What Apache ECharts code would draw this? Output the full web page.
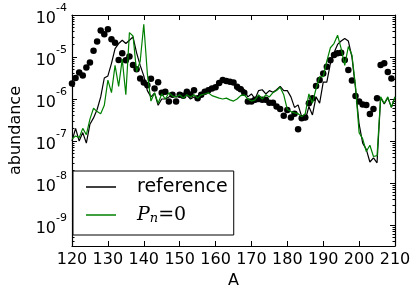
<!DOCTYPE html>
<html>
<head>
<meta charset="utf-8">
<script src="https://cdn.jsdelivr.net/npm/echarts@6/dist/echarts.min.js"></script>
<style>
html,body{margin:0;padding:0;background:#fff;}
#chart{width:415px;height:296px;}
</style>
</head>
<body>
<div id="chart"></div>
<script>
// Mass number A
var massNumbers = [120,121,122,123,124,125,126,127,128,129,130,131,132,133,134,135,136,137,138,139,
  140,141,142,143,144,145,146,147,148,149,150,151,152,153,154,155,156,157,158,159,
  160,161,162,163,164,165,166,167,168,169,170,171,172,173,174,175,176,177,178,179,
  180,181,182,183,184,185,186,187,188,189,190,191,192,193,194,195,196,197,198,199,
  200,201,202,203,204,205,206,207,208,209,210];

// log10(abundance), "reference" line (black)
var referenceLog10 = [-7.00,-6.70,-7.00,-6.80,-7.05,-6.60,-6.45,-6.25,-5.95,-5.50,
  -5.45,-5.15,-4.80,-4.68,-4.60,-4.68,-4.60,-4.52,-4.90,-5.20,
  -5.45,-5.80,-5.95,-5.86,-6.15,-6.00,-6.00,-5.95,-5.90,-5.95,
  -5.92,-5.96,-5.90,-6.00,-5.95,-5.98,-5.92,-5.85,-5.80,-5.75,
  -5.70,-5.62,-5.57,-5.58,-5.60,-5.62,-5.80,-5.70,-5.78,-5.95,
  -5.88,-6.00,-5.80,-5.78,-5.88,-5.80,-5.84,-5.78,-5.70,-5.80,
  -5.80,-5.95,-6.20,-6.14,-6.42,-6.50,-6.18,-6.38,-5.95,-6.10,
  -5.60,-5.60,-5.15,-4.90,-4.70,-4.62,-4.56,-4.62,-5.00,-5.75,
  -6.60,-7.05,-7.20,-7.50,-7.40,-7.52,-5.97,-6.12,-5.97,-6.20,-5.95];

// log10(abundance), "P_n=0" line (green)
var pn0Log10 = [-6.95,-6.88,-6.92,-6.70,-6.85,-6.48,-6.22,-6.30,-6.35,-6.15,
  -5.55,-5.85,-5.20,-5.70,-5.05,-5.90,-4.42,-4.50,-5.35,-5.10,
  -4.22,-5.40,-6.05,-5.85,-6.10,-5.88,-6.00,-5.85,-5.93,-5.95,
  -5.90,-5.98,-5.90,-5.95,-5.90,-5.98,-5.90,-5.88,-5.85,-5.92,
  -5.95,-5.98,-6.00,-5.98,-6.02,-6.05,-6.00,-5.92,-5.90,-6.00,
  -6.05,-6.02,-5.90,-6.00,-5.90,-5.95,-5.85,-5.80,-5.72,-5.90,
  -6.25,-6.30,-6.33,-6.35,-6.42,-6.35,-5.88,-6.10,-5.75,-5.47,
  -5.47,-5.10,-4.78,-4.68,-4.48,-4.80,-5.20,-4.75,-4.95,-5.70,
  -6.80,-6.95,-7.25,-7.10,-7.37,-7.35,-5.95,-6.10,-5.95,-6.20,-5.95];

// log10(abundance), black dots (A = 120..209)
var dotsLog10 = [-5.63,-5.50,-5.37,-5.44,-5.25,-5.13,-4.85,-4.63,-4.37,-4.46,
  -4.34,-4.58,-4.66,-5.07,-4.91,-5.08,-4.99,-5.19,-5.29,-5.51,
  -5.61,-5.67,-5.52,-5.75,-5.60,-5.85,-5.83,-6.06,-5.90,-6.06,
  -5.90,-5.92,-5.83,-5.89,-5.79,-5.98,-5.90,-5.83,-5.79,-5.75,
  -5.72,-5.62,-5.55,-5.57,-5.59,-5.61,-5.71,-5.77,-5.85,-6.06,
  -6.06,-6.02,-6.00,-6.02,-6.02,-6.09,-6.09,-6.18,-6.24,-6.40,
  -6.26,-6.44,-6.35,-6.72,-6.46,-6.44,-6.10,-5.98,-5.69,-5.55,
  -5.39,-5.23,-5.08,-4.95,-4.91,-4.90,-5.07,-5.31,-5.56,-5.93,
  -6.06,-6.13,-6.14,-6.36,-6.24,-5.98,-5.19,-5.15,-5.36,-5.51];

var xTicks = [120,130,140,150,160,170,180,190,200,210];
var yDecades = [-10,-9,-8,-7,-6,-5,-4];
var minorMultipliers = [2,3,4,5,6,7,8,9];

function pairs(logs){
  var out = [];
  for (var i = 0; i < logs.length; i++) out.push([massNumbers[i], Math.pow(10, logs[i])]);
  return out;
}

var Y_MIN = Math.pow(10,-9.5), Y_MAX = 1e-4;
var majorVals = [], minorVals = [];
yDecades.forEach(function(d){
  var p = Math.pow(10, d);
  if (p >= Y_MIN * 0.999 && p <= Y_MAX * 1.001) majorVals.push(p);
  minorMultipliers.forEach(function(m){
    var v = m * p;
    if (v > Y_MIN && v < Y_MAX) minorVals.push(v);
  });
});

var FONT = 'DejaVu Sans';
var chart = echarts.init(document.getElementById('chart'), null, {renderer:'canvas'});

function yLabel(v){
  var e = Math.log10(v);
  var r = Math.round(e);
  if (Math.abs(e - r) > 1e-6) return '';
  return '{b|10}{s|' + (r < 0 ? '-' + (-r) : r) + '}';
}

var tickStyle = {show:true, inside:true, length:5, lineStyle:{color:'#000', width:1}};
var lineStyleAxis = {show:true, lineStyle:{color:'#000', width:1.2}};

function yAx(pos, withLabels){
  return {
    type:'log', logBase:10, min:Y_MIN, max:Y_MAX, position:pos,
    axisLine:lineStyleAxis,
    axisTick:{show:true, inside:true, length:5, customValues:majorVals, lineStyle:{color:'#000', width:1}},
    axisLabel: withLabels ? {formatter:yLabel, customValues:majorVals, margin:5, color:'#000',
      rich:{
        b:{fontFamily:FONT, fontSize:16, color:'#000', lineHeight:24, verticalAlign:'bottom'},
        s:{fontFamily:FONT, fontSize:11, color:'#000', lineHeight:24, verticalAlign:'top', padding:[0,0,10,0]}
      }} : {show:false},
    splitLine:{show:false}
  };
}
function yMinor(pos){
  return {
    type:'log', logBase:10, min:Y_MIN, max:Y_MAX, position:pos,
    axisLine:{show:false},
    axisTick:{show:true, inside:true, length:2.5, customValues:minorVals, lineStyle:{color:'#000', width:1}},
    axisLabel:{show:false}, splitLine:{show:false}
  };
}

var leftAxis = yAx('left', true);
leftAxis.name = 'abundance';
leftAxis.nameLocation = 'middle';
leftAxis.nameGap = 48;
leftAxis.nameRotate = 90;
leftAxis.nameTextStyle = {fontFamily:FONT, fontSize:16, color:'#000'};

chart.setOption({
  animation:false,
  backgroundColor:'#fff',
  grid:{left:63, right:20, top:15, bottom:50, containLabel:false},
  xAxis:[{
    type:'value', min:xTicks[0], max:xTicks[xTicks.length-1], interval:10,
    name:'A', nameLocation:'middle', nameGap:22,
    nameTextStyle:{fontFamily:FONT, fontSize:16, color:'#000'},
    axisLine:lineStyleAxis, axisTick:tickStyle,
    axisLabel:{fontFamily:FONT, fontSize:16, color:'#000', margin:6},
    splitLine:{show:false}
  },{
    type:'value', position:'top', min:xTicks[0], max:xTicks[xTicks.length-1], interval:10,
    axisLine:lineStyleAxis, axisTick:tickStyle, axisLabel:{show:false}, splitLine:{show:false}
  }],
  yAxis:[leftAxis, yAx('right', false), yMinor('left'), yMinor('right')],
  legend:{
    data:['reference','P_n=0'],
    orient:'vertical', left:73, top:171,
    icon:'rect', itemWidth:30, itemHeight:1.5, itemGap:8,
    padding:[6,6,10,13],
    backgroundColor:'#fff', borderColor:'#000', borderWidth:1, borderRadius:0,
    formatter:function(name){
      return name === 'reference' ? '{r|reference}' : '{p|P}{n|n}{e|=0}';
    },
    textStyle:{
      padding:[0,0,0,16], lineHeight:20,
      rich:{
        r:{fontFamily:FONT, fontSize:19, color:'#000', lineHeight:20},
        p:{fontFamily:'DejaVu Serif', fontStyle:'italic', fontSize:19, color:'#000', lineHeight:20},
        n:{fontFamily:'DejaVu Serif', fontStyle:'italic', fontSize:13, color:'#000', verticalAlign:'bottom', padding:[8,0,0,0]},
        e:{fontFamily:'DejaVu Serif', fontSize:19, color:'#000', lineHeight:20}
      }
    }
  },
  series:[{
    name:'dots', type:'scatter', data:pairs(dotsLog10),
    symbol:'circle', symbolSize:6.5, itemStyle:{color:'#000', opacity:1}, z:2
  },{
    name:'reference', type:'line', data:pairs(referenceLog10),
    symbol:'none', lineStyle:{color:'#000', width:1.2}, itemStyle:{color:'#000'}, z:3
  },{
    name:'P_n=0', type:'line', data:pairs(pn0Log10),
    symbol:'none', lineStyle:{color:'#008000', width:1.2}, itemStyle:{color:'#008000'}, z:4
  }]
});
</script>
</body>
</html>
